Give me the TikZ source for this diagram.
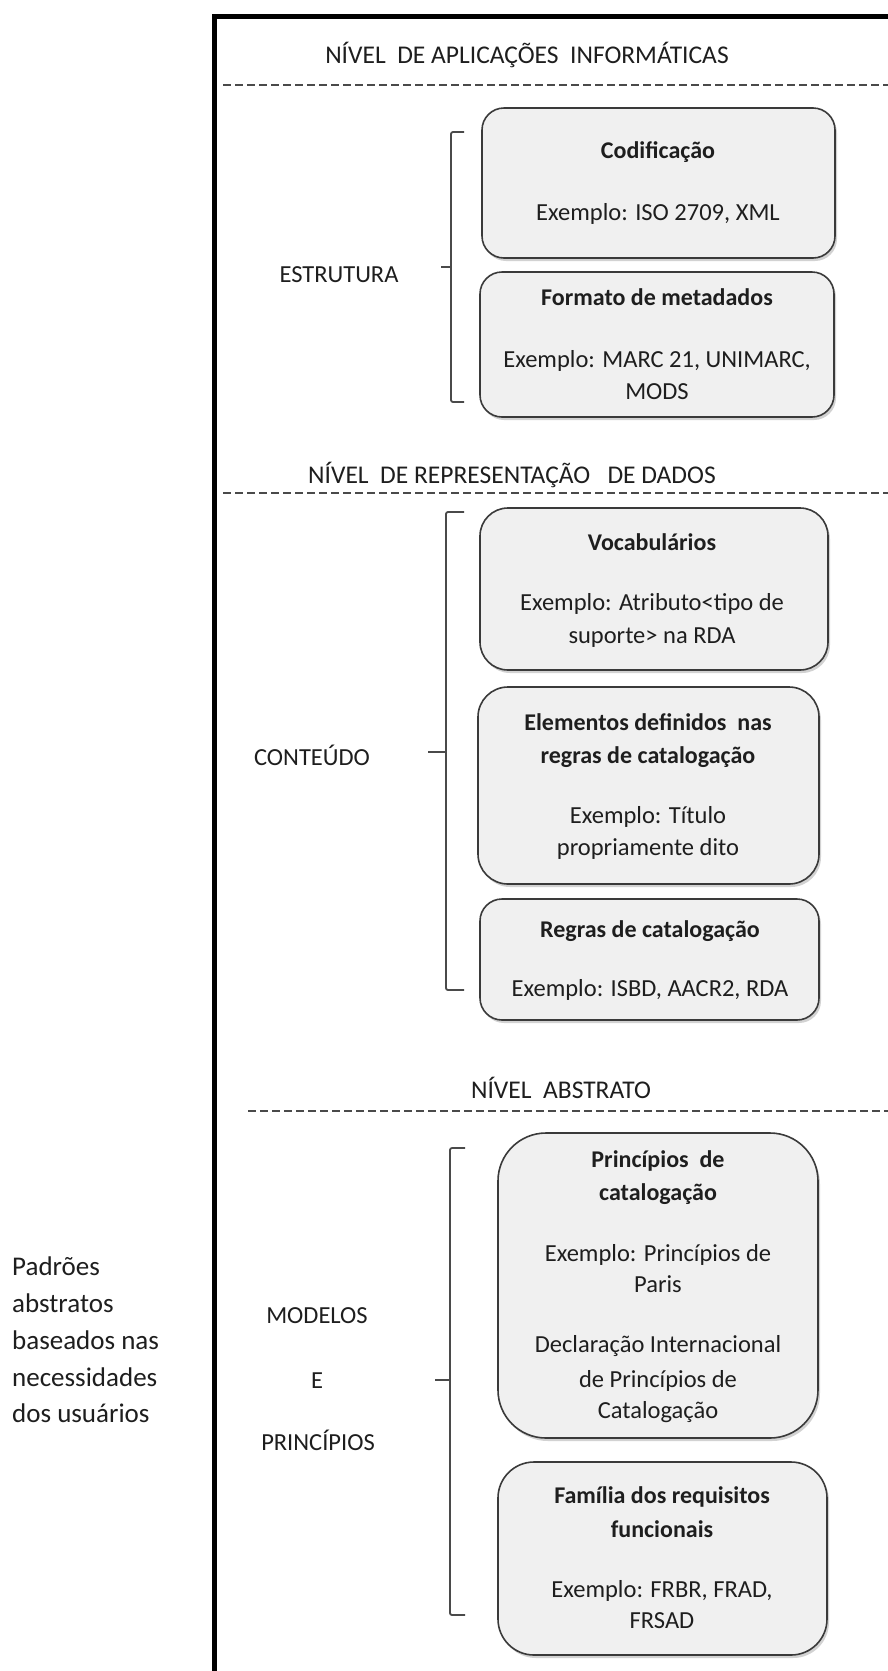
\documentclass[tikz,border=0pt]{standalone}
\usepackage{fontspec}
\setmainfont{Carlito}
\usetikzlibrary{shadows}
\definecolor{ink}{HTML}{1E1E1E}
\definecolor{boxline}{HTML}{3A3A3A}
\definecolor{boxfill}{HTML}{F0F0F0}
\definecolor{rulegray}{HTML}{4A4A4A}
\tikzset{
  panel/.style={draw=boxline, line width=1.6pt, fill=boxfill, inner sep=0pt,
    drop shadow={opacity=0.35, shadow xshift=2pt, shadow yshift=-3pt}},
  txt/.style={anchor=base, inner sep=0pt, text=ink, font=\fontsize{24.5}{30}\selectfont},
  hd/.style={anchor=base, inner sep=0pt, text=ink, font=\fontsize{24}{30}\selectfont\bfseries},
  ttl/.style={anchor=base, inner sep=0pt, text=ink, font=\fontsize{25.5}{30}\selectfont},
  side/.style={anchor=base west, inner sep=0pt, text=ink, font=\fontsize{27}{30}\selectfont},
  sep/.style={draw=rulegray, line width=1.6pt, dash pattern=on 8pt off 4pt},
  brace/.style={draw=rulegray, line width=1.8pt, rounded corners=2pt},
  frame/.style={draw=black, line width=5pt, line join=miter}
}
\begin{document}
\begin{tikzpicture}[x=1pt, y=-1pt]
\useasboundingbox (0,0) rectangle (888,1671);
\fill[white] (0,0) rectangle (888,1671);

% outer frame
\draw[frame] (888,16) -- (214,16) -- (214,1671);

% level titles and separators
\node[ttl] (t1) at (527,63) {NÍVEL\ \ DE APLICAÇÕES\ \ INFORMÁTICAS};
\draw[sep] (223,85) -- (888,85);
\node[ttl] (t2) at (512,483) {NÍVEL\ \ DE REPRESENTAÇÃO\ \ \ DE DADOS};
\draw[sep] (223,493) -- (888,493);
\node[ttl] (t3) at (561,1098) {NÍVEL\ \ ABSTRATO};
\draw[sep] (248,1111) -- (888,1111);

% boxes
\node[panel, rounded corners=22pt, minimum width=353pt, minimum height=150pt] (b1) at (658.5,183) {};
\node[panel, rounded corners=22pt, minimum width=354pt, minimum height=145pt] (b2) at (657,344.5) {};
\node[panel, rounded corners=28pt, minimum width=348pt, minimum height=162pt] (b3) at (654,589) {};
\node[panel, rounded corners=30pt, minimum width=341pt, minimum height=197pt] (b4) at (648.5,785.5) {};
\node[panel, rounded corners=22pt, minimum width=339pt, minimum height=121pt] (b5) at (649.5,959.5) {};
\node[panel, rounded corners=48pt, minimum width=320pt, minimum height=305pt] (b6) at (658,1285.5) {};
\node[panel, rounded corners=36pt, minimum width=329pt, minimum height=193pt] (b7) at (662.5,1558.5) {};

% box texts
\node[hd]  (b1h)  at (658,158) {Codificação};
\node[txt] (b1a)  at (658,220) {Exemplo: ISO 2709, XML};

\node[hd]  (b2h)  at (657,305) {Formato de metadados};
\node[txt] (b2a)  at (657,367) {Exemplo: MARC 21, UNIMARC,};
\node[txt] (b2b)  at (657,399) {MODS};

\node[hd]  (b3h)  at (652,550) {Vocabulários};
\node[txt] (b3a)  at (652,610) {Exemplo: Atributo<tipo de};
\node[txt] (b3b)  at (652,643) {suporte> na RDA};

\node[hd]  (b4h)  at (648,730) {Elementos definidos\ \ nas};
\node[hd]  (b4i)  at (648,763) {regras de catalogação};
\node[txt] (b4a)  at (648,823) {Exemplo: Título};
\node[txt] (b4b)  at (648,855) {propriamente dito};

\node[hd]  (b5h)  at (650,937) {Regras de catalogação};
\node[txt] (b5a)  at (650,996) {Exemplo: ISBD, AACR2, RDA};

\node[hd]  (b6h)  at (658,1167) {Princípios\ \ de};
\node[hd]  (b6i)  at (658,1200) {catalogação};
\node[txt] (b6a)  at (658,1261) {Exemplo: Princípios de};
\node[txt] (b6b)  at (658,1292) {Paris};
\node[txt] (b6c)  at (658,1352) {Declaração Internacional};
\node[txt] (b6d)  at (658,1387) {de Princípios de};
\node[txt] (b6e)  at (658,1418) {Catalogação};

\node[hd]  (b7h)  at (662,1503) {Família dos requisitos};
\node[hd]  (b7i)  at (662,1537) {funcionais};
\node[txt] (b7a)  at (662,1597) {Exemplo: FRBR, FRAD,};
\node[txt] (b7b)  at (662,1628) {FRSAD};

% group labels
\node[txt] (lEst) at (339,282) {ESTRUTURA};
\node[txt] (lCon) at (312,765) {CONTEÚDO};
\node[txt] (lMod) at (317,1323) {MODELOS};
\node[txt] (lE)   at (317,1388) {E};
\node[txt] (lPri) at (318,1450) {PRINCÍPIOS};

% note on the left
\node[side] (n1) at (12,1275) {Padrões};
\node[side] (n2) at (12,1312) {abstratos};
\node[side] (n3) at (12,1349) {baseados nas};
\node[side] (n4) at (12,1386) {necessidades};
\node[side] (n5) at (12,1422) {dos usuários};

% brackets
\coordinate (k1t) at (464,132);  \coordinate (k1b) at (464,402);
\coordinate (k1m) at (451,267);  \coordinate (k1p) at (441,267);
\draw[brace] (k1t) -- (451,132) -- (451,402) -- (k1b);
\draw[brace] (k1m) -- (k1p);

\coordinate (k2t) at (464,512);  \coordinate (k2b) at (464,990);
\coordinate (k2m) at (446,752);  \coordinate (k2p) at (428,752);
\draw[brace] (k2t) -- (446,512) -- (446,990) -- (k2b);
\draw[brace] (k2m) -- (k2p);

\coordinate (k3t) at (465,1148); \coordinate (k3b) at (465,1615);
\coordinate (k3m) at (450,1380); \coordinate (k3p) at (435,1380);
\draw[brace] (k3t) -- (450,1148) -- (450,1615) -- (k3b);
\draw[brace] (k3m) -- (k3p);
\end{tikzpicture}
\end{document}
